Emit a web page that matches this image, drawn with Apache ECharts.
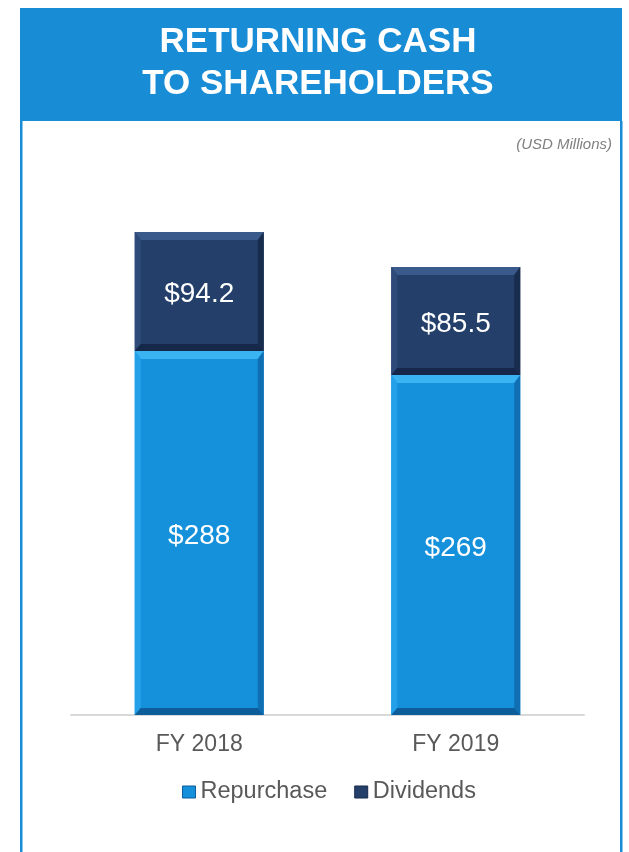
<!DOCTYPE html>
<html>
<head>
<meta charset="utf-8">
<script src="https://cdn.jsdelivr.net/npm/echarts@6/dist/echarts.min.js"></script>
<style>
html,body{margin:0;padding:0;background:#fff;}
#c{width:629px;height:852px;}
</style>
</head>
<body>
<div id="c"></div>
<script>
const categories = ['FY 2018', 'FY 2019'];
const repurchase = [288, 269];
const dividends = [94.2, 85.5];
const seriesNames = ['Repurchase', 'Dividends'];
const titleLines = ['RETURNING CASH', 'TO SHAREHOLDERS'];
const unitNote = '(USD Millions)';

const FONT = 'Liberation Sans, Arial, Helvetica, sans-serif';
const BLUE = '#188cd5';

const palettes = {
  Repurchase: {body:'#1591dc', top:'#3ab3f2', left:'#23a0e8', right:'#0f6fb2', bottom:'#0c5d99'},
  Dividends: {body:'#243f6a', top:'#3a5a8b', left:'#2d4a79', right:'#182c4e', bottom:'#162849'}
};

function makeRender(pal, baseArr) {
  return function (params, api) {
    const i = api.value(0);
    const v = api.value(1);
    const base = baseArr ? baseArr[i] : 0;
    const pTop = api.coord([i, base + v]);
    const pBot = api.coord([i, base]);
    const w = 129;
    const x0 = pTop[0] - w / 2, x1 = pTop[0] + w / 2;
    const y0 = pTop[1], y1 = pBot[1];
    const bt = 8, bs = 6, bb = 7;
    return {
      type: 'group',
      children: [
        {type:'rect', shape:{x:x0, y:y0, width:w, height:y1 - y0}, style:{fill:pal.body}},
        {type:'polygon', shape:{points:[[x0,y0],[x1,y0],[x1-bs,y0+bt],[x0+bs,y0+bt]]}, style:{fill:pal.top}},
        {type:'polygon', shape:{points:[[x0,y0],[x0+bs,y0+bt],[x0+bs,y1-bb],[x0,y1]]}, style:{fill:pal.left}},
        {type:'polygon', shape:{points:[[x1,y0],[x1-bs,y0+bt],[x1-bs,y1-bb],[x1,y1]]}, style:{fill:pal.right}},
        {type:'polygon', shape:{points:[[x0,y1],[x0+bs,y1-bb],[x1-bs,y1-bb],[x1,y1]]}, style:{fill:pal.bottom}},
        {type:'text', style:{text:'$' + v, x:(x0 + x1) / 2, y:(y0 + y1) / 2 + 3, fill:'#ffffff',
          fontSize:28, fontFamily:FONT, align:'center', verticalAlign:'middle'}}
      ]
    };
  };
}

const chart = echarts.init(document.getElementById('c'), null, {renderer:'canvas'});
chart.setOption({
  animation: false,
  backgroundColor: '#ffffff',
  graphic: [
    {type:'rect', shape:{x:20, y:8, width:602, height:113}, style:{fill:BLUE}, z:0},
    {type:'rect', shape:{x:20, y:121, width:2.5, height:731}, style:{fill:BLUE}, z:0},
    {type:'rect', shape:{x:620, y:121, width:2.5, height:731}, style:{fill:BLUE}, z:0},
    {type:'text', style:{text:titleLines[0], x:318, y:42, fill:'#ffffff', fontSize:35, fontWeight:'bold',
      fontFamily:FONT, align:'center', verticalAlign:'middle'}, z:5},
    {type:'text', style:{text:titleLines[1], x:318, y:84, fill:'#ffffff', fontSize:35, fontWeight:'bold',
      fontFamily:FONT, align:'center', verticalAlign:'middle'}, z:5},
    {type:'text', style:{text:unitNote, x:612, y:145, fill:'#7f7f7f', fontSize:15, fontStyle:'italic',
      fontFamily:FONT, align:'right', verticalAlign:'middle'}, z:5}
  ],
  legend: {
    data: [
      {name: seriesNames[0], icon:'rect', itemStyle:{color:palettes.Repurchase.body, borderColor:palettes.Repurchase.bottom, borderWidth:1}},
      {name: seriesNames[1], icon:'rect', itemStyle:{color:palettes.Dividends.body, borderColor:palettes.Dividends.bottom, borderWidth:1}}
    ],
    left: 182,
    top: 780,
    padding: 0,
    itemWidth: 13,
    itemHeight: 12,
    itemGap: 27,
    textStyle: {color:'#595959', fontSize:23.5, fontFamily:FONT},
    selectedMode: false
  },
  grid: {left:71, right:45, top:209.4, bottom:137, containLabel:false},
  xAxis: {
    type: 'category',
    data: categories,
    axisLine: {show:true, lineStyle:{color:'#d9d9d9', width:2}},
    axisTick: {show:false},
    axisLabel: {color:'#595959', fontSize:23, fontFamily:FONT, margin:18}
  },
  yAxis: {type:'value', min:0, max:400, show:false, splitLine:{show:false}},
  series: [
    {
      name: seriesNames[0], type:'custom',
      itemStyle: {color: palettes.Repurchase.body},
      encode: {x:0, y:1},
      data: repurchase.map((v, i) => [i, v]),
      renderItem: makeRender(palettes.Repurchase, null),
      z: 2
    },
    {
      name: seriesNames[1], type:'custom',
      itemStyle: {color: palettes.Dividends.body},
      encode: {x:0, y:1},
      data: dividends.map((v, i) => [i, v]),
      renderItem: makeRender(palettes.Dividends, repurchase),
      z: 2
    }
  ]
});
</script>
</body>
</html>
